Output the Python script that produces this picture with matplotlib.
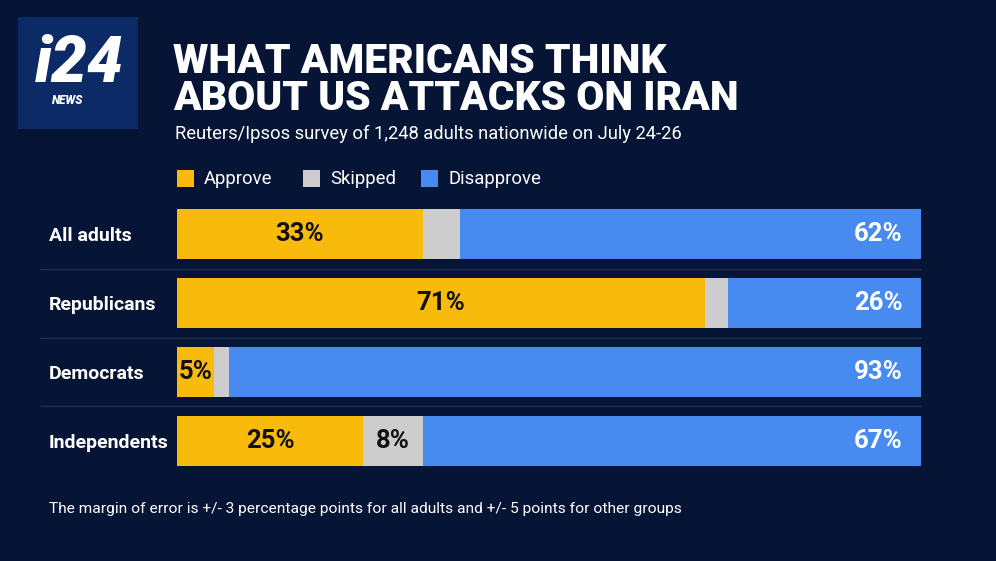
import matplotlib
matplotlib.use('Agg')
import matplotlib.pyplot as plt
from matplotlib.patches import Rectangle
import numpy as np

# Data
groups = ['All adults', 'Republicans', 'Democrats', 'Independents']
approve = [33, 71, 5, 25]
disapprove = [62, 26, 93, 67]
skipped = [100 - a - d for a, d in zip(approve, disapprove)]
skipped_labelled = [False, False, False, True]

title_lines = ['WHAT AMERICANS THINK', 'ABOUT US ATTACKS ON IRAN']
subtitle = 'Reuters/Ipsos survey of 1,248 adults nationwide on July 24-26'
footnote = ('The margin of error is +/- 3 percentage points for all adults '
            'and +/- 5 points for other groups')
legend_items = ['Approve', 'Skipped', 'Disapprove']

BG = '#061535'
YELLOW = '#f9bb0b'
GREY = '#cdcdcd'
BLUE = '#488bf0'
colors = [YELLOW, GREY, BLUE]

plt.rcParams['font.family'] = ['Roboto', 'DejaVu Sans']

W, H = 996, 561
fig = plt.figure(figsize=(W / 100, H / 100), dpi=100, facecolor=BG)


def fx(px):
    return px / W


def fy(py):
    return 1 - py / H


# logo
fig.add_artist(Rectangle((fx(18), fy(129)), fx(120), 112 / H,
                         transform=fig.transFigure, facecolor='#0c2a66',
                         edgecolor='none'))
fig.text(fx(79), fy(82), 'i24', color='white', fontsize=46, fontweight='black',
         fontstyle='italic', ha='center', va='baseline')
fig.text(fx(68), fy(100), 'NEWS', color='white', fontsize=8.5, fontweight='black',
         fontstyle='italic', ha='center', va='center')

# titles
fig.text(fx(173), fy(73), title_lines[0], color='white', fontsize=29.3,
         fontweight='black', ha='left', va='baseline')
fig.text(fx(173), fy(110), title_lines[1], color='white', fontsize=29.3,
         fontweight='black', ha='left', va='baseline')
fig.text(fx(175), fy(139), subtitle, color='white', fontsize=13.2,
         ha='left', va='baseline')

# legend
lx = [177, 303, 421]
for x0, lab, c in zip(lx, legend_items, colors):
    fig.add_artist(Rectangle((fx(x0), fy(187)), fx(17), 17 / H,
                             transform=fig.transFigure, facecolor=c,
                             edgecolor='none'))
    fig.text(fx(x0 + 27), fy(179), lab, color='white', fontsize=13.3,
             ha='left', va='center')

# bars
ax = fig.add_axes([fx(177), fy(475), fx(744), 275 / H])
ax.set_facecolor('none')
y = np.arange(len(groups))
ax.barh(y, approve, height=0.72, color=YELLOW, linewidth=0)
ax.barh(y, skipped, left=approve, height=0.72, color=GREY, linewidth=0)
left_d = [a + s for a, s in zip(approve, skipped)]
ax.barh(y, disapprove, left=left_d, height=0.72, color=BLUE, linewidth=0)

for i in range(len(groups)):
    ax.text(approve[i] / 2, y[i], f'{approve[i]}%', color='#111111',
            fontsize=18.5, fontweight='bold', ha='center', va='center')
    if skipped_labelled[i]:
        ax.text(approve[i] + skipped[i] / 2, y[i], f'{skipped[i]}%',
                color='#111111', fontsize=18.5, fontweight='bold',
                ha='center', va='center')
    ax.text(97.5, y[i], f'{disapprove[i]}%', color='white', fontsize=18.5,
            fontweight='bold', ha='right', va='center')

# row separators
ax.hlines([0.5, 1.5, 2.5], (40 - 177) / 744, 1, transform=ax.get_yaxis_transform(),
          color='#1f2d50', linewidth=1, clip_on=False)

ax.set_xlim(0, 100)
ax.set_ylim(3.493, -0.493)
ax.set_yticks(y)
ax.set_yticklabels(groups, color='white', fontsize=14, fontweight='bold')
for t in ax.get_yticklabels():
    t.set_horizontalalignment('left')
ax.tick_params(axis='y', length=0, pad=(177 - 49) * 0.72)
ax.set_xticks([])
for s in ax.spines.values():
    s.set_visible(False)

fig.text(fx(49), fy(509), footnote, color='white', fontsize=11.15,
         ha='left', va='center')

fig.savefig('out.png', dpi=100, facecolor=BG)
